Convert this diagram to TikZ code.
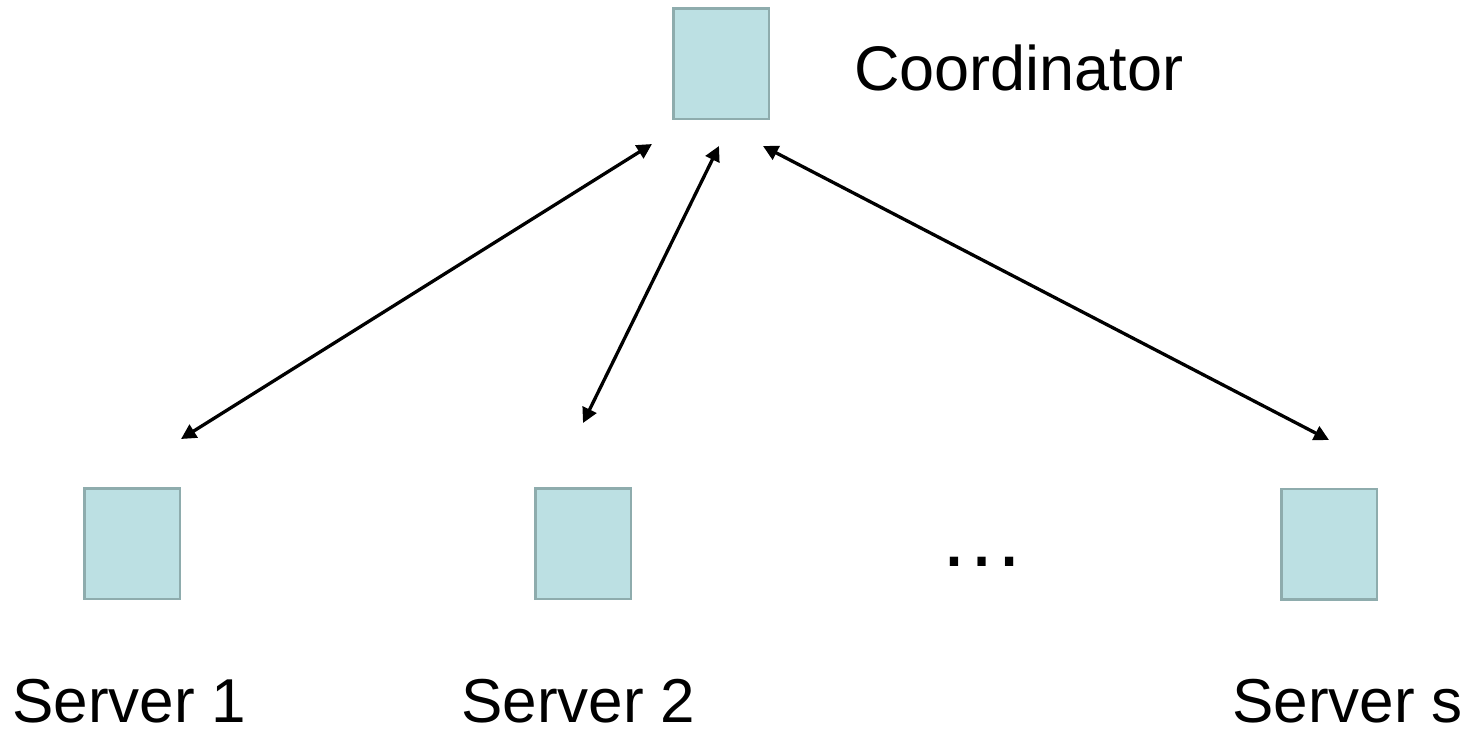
\documentclass[tikz,border=0pt]{standalone}
\usepackage{fontspec}
\setmainfont{Liberation Sans}
\usetikzlibrary{arrows.meta}
\definecolor{boxfill}{HTML}{BCE0E3}
\definecolor{boxedge}{HTML}{8EACAD}
\begin{document}
\begin{tikzpicture}[x=1pt,y=-1pt,
  srv/.style={draw=boxedge, fill=boxfill, line width=2.5pt, minimum width=95.5pt, minimum height=110.5pt, inner sep=0pt},
  lbl/.style={anchor=base west, inner sep=0pt, font=\fontsize{62}{68}\selectfont},
  link/.style={line width=3.3pt, {Triangle[length=15pt,width=15pt]}-{Triangle[length=15pt,width=15pt]}}]
\useasboundingbox[fill=white] (0,0) rectangle (1475,732);
\node[srv] (coord) at (721,63.5) {};
\node[srv] (s1) at (132,543.5) {};
\node[srv] (s2) at (583,543.5) {};
\node[srv] (ss) at (1329,544) {};
\node[lbl, font=\fontsize{63}{70}\selectfont] (lcoord) at (854,90) {Coordinator};
\node[lbl] (l1) at (12,722) {Server 1};
\node[lbl] (l2) at (461,722) {Server 2};
\node[lbl] (ls) at (1232,722) {Server s};
\node[lbl, font=\fontsize{87}{90}\selectfont] (dots) at (938,566) {…};
\coordinate (c1) at (652,144);
\coordinate (c2) at (719,146);
\coordinate (c3) at (763,146);
\coordinate (e1) at (181,439);
\coordinate (e2) at (583,423);
\coordinate (e3) at (1329,440);
\draw[link] (c1) -- (e1);
\draw[link] (c2) -- (e2);
\draw[link] (c3) -- (e3);
\end{tikzpicture}
\end{document}
